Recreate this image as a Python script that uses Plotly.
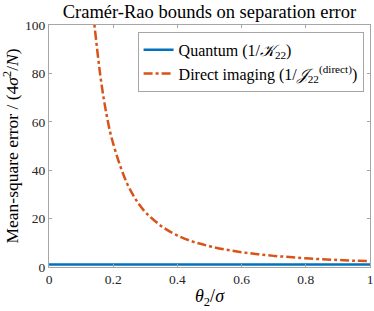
import plotly.graph_objects as go

theta_quantum = [0.0, 1.0]
mse_quantum = [1.0, 1.0]

theta_direct = [0.138, 0.14, 0.15, 0.16, 0.17, 0.18, 0.19, 0.2, 0.22, 0.24, 0.26, 0.28, 0.3,
                0.33, 0.36, 0.4, 0.45, 0.5, 0.55, 0.6, 0.65, 0.7, 0.75, 0.8, 0.85, 0.9, 0.95, 1.0]
mse_direct = [105, 102, 90, 79, 70, 62.5, 56, 51, 42.5, 35.5, 30.2, 26, 22.7,
              19, 16, 13, 10.4, 8.6, 7.2, 6.1, 5.3, 4.6, 4.1, 3.6, 3.2, 2.9, 2.6, 2.4]

x_ticks = [0, 0.2, 0.4, 0.6, 0.8, 1]
y_ticks = [0, 20, 40, 60, 80, 100]

FONT = "'Liberation Serif', 'DejaVu Serif', 'Times New Roman', serif"
AX = "#a6a6a6"

fig = go.Figure()
fig.add_trace(go.Scatter(
    x=theta_quantum, y=mse_quantum, mode="lines",
    name="Quantum (1/<i>𝒦</i><sub>22</sub>)",
    line=dict(color="#0072BD", width=2.5)))
fig.add_trace(go.Scatter(
    x=theta_direct, y=mse_direct, mode="lines",
    name="Direct imaging (1/<i>𝒥</i><sub>22</sub><sup>(direct)</sup>)",
    line=dict(color="#D95319", width=2.5, dash="9px,3px,3px,3px", shape="spline")))

fig.update_layout(
    width=374, height=311,
    margin=dict(l=49, r=4, t=25, b=44, autoexpand=False),
    paper_bgcolor="white", plot_bgcolor="white",
    font=dict(family=FONT, size=13, color="#262626"),
    title=dict(text="Cramér-Rao bounds on separation error", x=0.56, xanchor="center",
               y=0.985, yanchor="top", font=dict(family=FONT, size=18.5, color="#000000")),
    legend=dict(x=0.98, xanchor="right", y=0.972, yanchor="top",
                bgcolor="white", bordercolor=AX, borderwidth=1,
                font=dict(family=FONT, size=16, color="#000000"),
                itemwidth=30, tracegroupgap=0),
    showlegend=True,
)
fig.update_xaxes(range=[0, 1], tickvals=x_ticks, ticktext=[str(t) for t in x_ticks],
                 automargin=False,
                 showgrid=False, zeroline=False, showline=True, linecolor=AX, linewidth=1,
                 mirror="ticks", ticks="inside", ticklen=3, tickcolor=AX,
                 tickfont=dict(size=13.5, color="#262626"),
                 title=dict(text="<i>θ</i><sub>2</sub>/<i>σ</i>", standoff=3,
                            font=dict(size=18, color="#000000")))
fig.update_yaxes(range=[0, 100], tickvals=y_ticks, automargin=False,
                 showgrid=False, zeroline=False, showline=True, linecolor=AX, linewidth=1,
                 mirror="ticks", ticks="inside", ticklen=3, tickcolor=AX,
                 tickfont=dict(size=13.5, color="#262626"),
                 title=dict(text="Mean-square error / (4<i>σ</i><sup>2</sup>/<i>N</i>)", standoff=3,
                            font=dict(size=17.5, color="#000000")))

fig.write_html("out.html", config={"displayModeBar": False},
               post_script="document.body.style.margin='0';")
